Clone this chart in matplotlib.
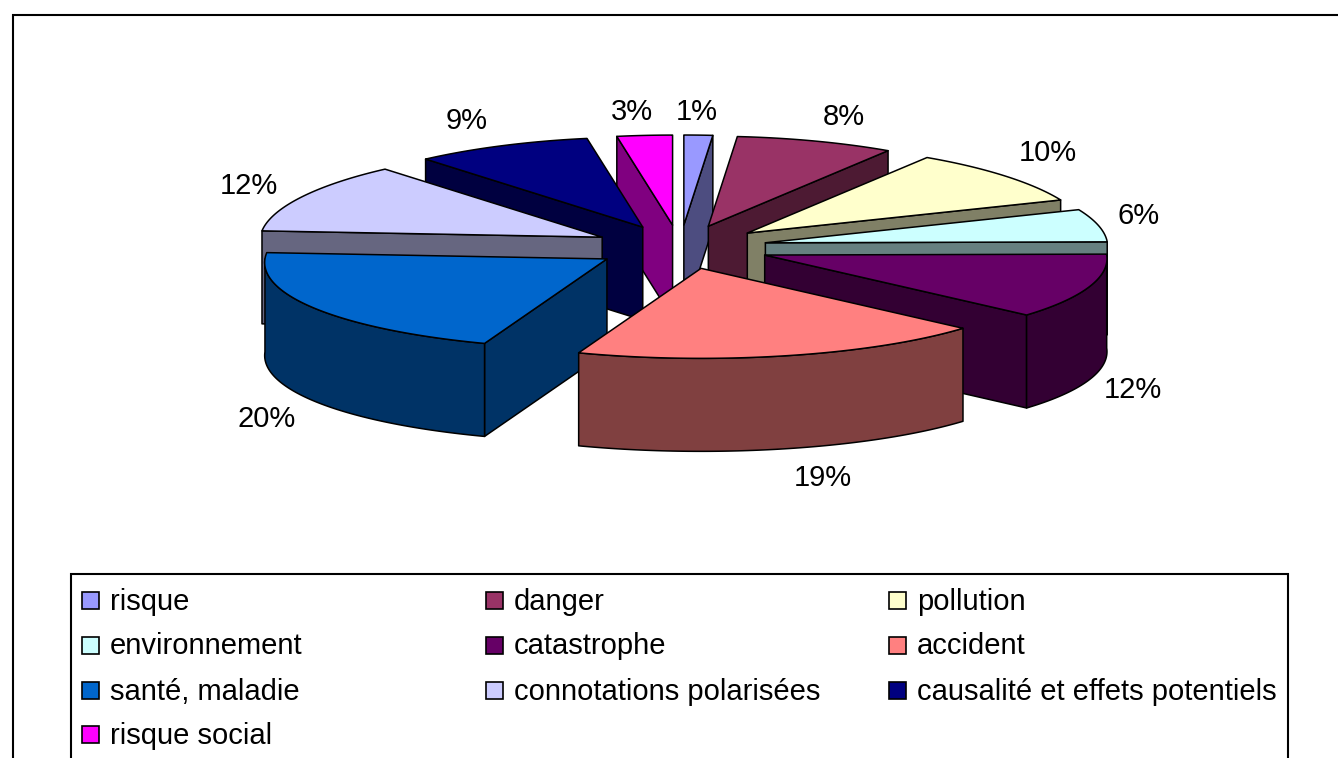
import numpy as np
import matplotlib
matplotlib.use('Agg')
import matplotlib.pyplot as plt
from matplotlib.colors import to_rgb
from matplotlib.patches import Polygon, Rectangle

plt.rcParams['font.family'] = ['Liberation Sans', 'DejaVu Sans']

categories = ['risque', 'danger', 'pollution', 'environnement', 'catastrophe', 'accident',
              'santé, maladie', 'connotations polarisées', 'causalité et effets potentiels', 'risque social']
values = [1.4, 7.7, 9.8, 5.8, 11.7, 18.9, 20.4, 12.45, 8.6, 2.7]
pct_labels = ['1%', '8%', '10%', '6%', '12%', '19%', '20%', '12%', '9%', '3%']
colors = ['#9999FF', '#993366', '#FFFFCC', '#CCFFFF', '#660066', '#FF8080', '#0066CC', '#CCCCFF', '#000080', '#FF00FF']

#### pie geometry, in pixels
cx, cy = 680, 247
rx, ry = 342, 90
persp = 0.04  # front of the pie is a bit wider than the back
depth = 93
ex, ey = 87, 22  # explosion
explode = [1, 1, 1, 1, 1.04, 1, 1, 1, 1, 1]
label_pos = [(697, 112), (844, 117), (1048, 153), (1139, 216), (1133, 390),
             (823, 478), (267, 419), (249, 186), (467, 121), (632, 112)]

fig = plt.figure(figsize=(13.38, 7.58), dpi=100)
ax = fig.add_axes([0, 0, 1, 1])
ax.set_xlim(0, 1338)
ax.set_ylim(758, 0)
ax.axis('off')

# the frame runs off the right and bottom of the picture
ax.add_patch(Rectangle((12.5, 15), 1400, 800, fc='white', ec='black', lw=1.5, zorder=0))


def rim(a, dx, dy):
    a = np.radians(a)
    return np.column_stack([cx + dx + rx * (1 - persp * np.cos(a)) * np.sin(a), cy + dy - ry * np.cos(a)])


def shape(pts, fc, zorder):
    ax.add_patch(Polygon(pts, closed=True, fc=fc, ec='black', lw=1.1, joinstyle='round', zorder=zorder))


edges = np.cumsum([0] + values) / sum(values) * 360
mids = (edges[:-1] + edges[1:]) / 2

# back slices first
order = np.argsort(-np.cos(np.radians(mids)))
for rank, i in enumerate(order):
    a0, a1 = edges[i], edges[i + 1]
    dx = ex * explode[i] * np.sin(np.radians(mids[i]))
    dy = -ey * explode[i] * np.cos(np.radians(mids[i]))
    top = np.array([[cx + dx, cy + dy]])
    wall = tuple(c * 0.5 for c in to_rgb(colors[i]))
    z = 10 + rank * 3

    # side walls that face the viewer
    if np.sin(np.radians(a0)) < 0:
        p = rim(a0, dx, dy)
        shape(np.vstack([top, p, p + [0, depth], top + [0, depth]]), wall, z)
    if np.sin(np.radians(a1)) > 0:
        p = rim(a1, dx, dy)
        shape(np.vstack([top, p, p + [0, depth], top + [0, depth]]), wall, z)

    # outer wall, only the front half of the rim
    lo, hi = max(a0, 90), min(a1, 270)
    if hi > lo:
        arc = rim(np.linspace(lo, hi, 80), dx, dy)
        shape(np.vstack([arc, arc[::-1] + [0, depth]]), wall, z + 1)

    arc = rim(np.linspace(a0, a1, 120), dx, dy)
    shape(np.vstack([top, arc]), colors[i], z + 2)

for (x, y), s in zip(label_pos, pct_labels):
    ax.text(x, y, s, fontsize=21, ha='center', va='center', zorder=60)

#### legend
ax.add_patch(Rectangle((71, 574), 1217, 300, fc='white', ec='black', lw=1.5, zorder=40))
col_x = [82, 486, 889]
row_y = [600.5, 645, 690, 734.5]
for k, name in enumerate(categories):
    x, y = col_x[k % 3], row_y[k // 3]
    ax.add_patch(Rectangle((x, y - 8.5), 17, 17, fc=colors[k], ec='black', lw=1.2, zorder=41))
    ax.text(x + 28, y + 1.5, name, fontsize=21, ha='left', va='center', zorder=41)

fig.savefig('out.png', dpi=100)
